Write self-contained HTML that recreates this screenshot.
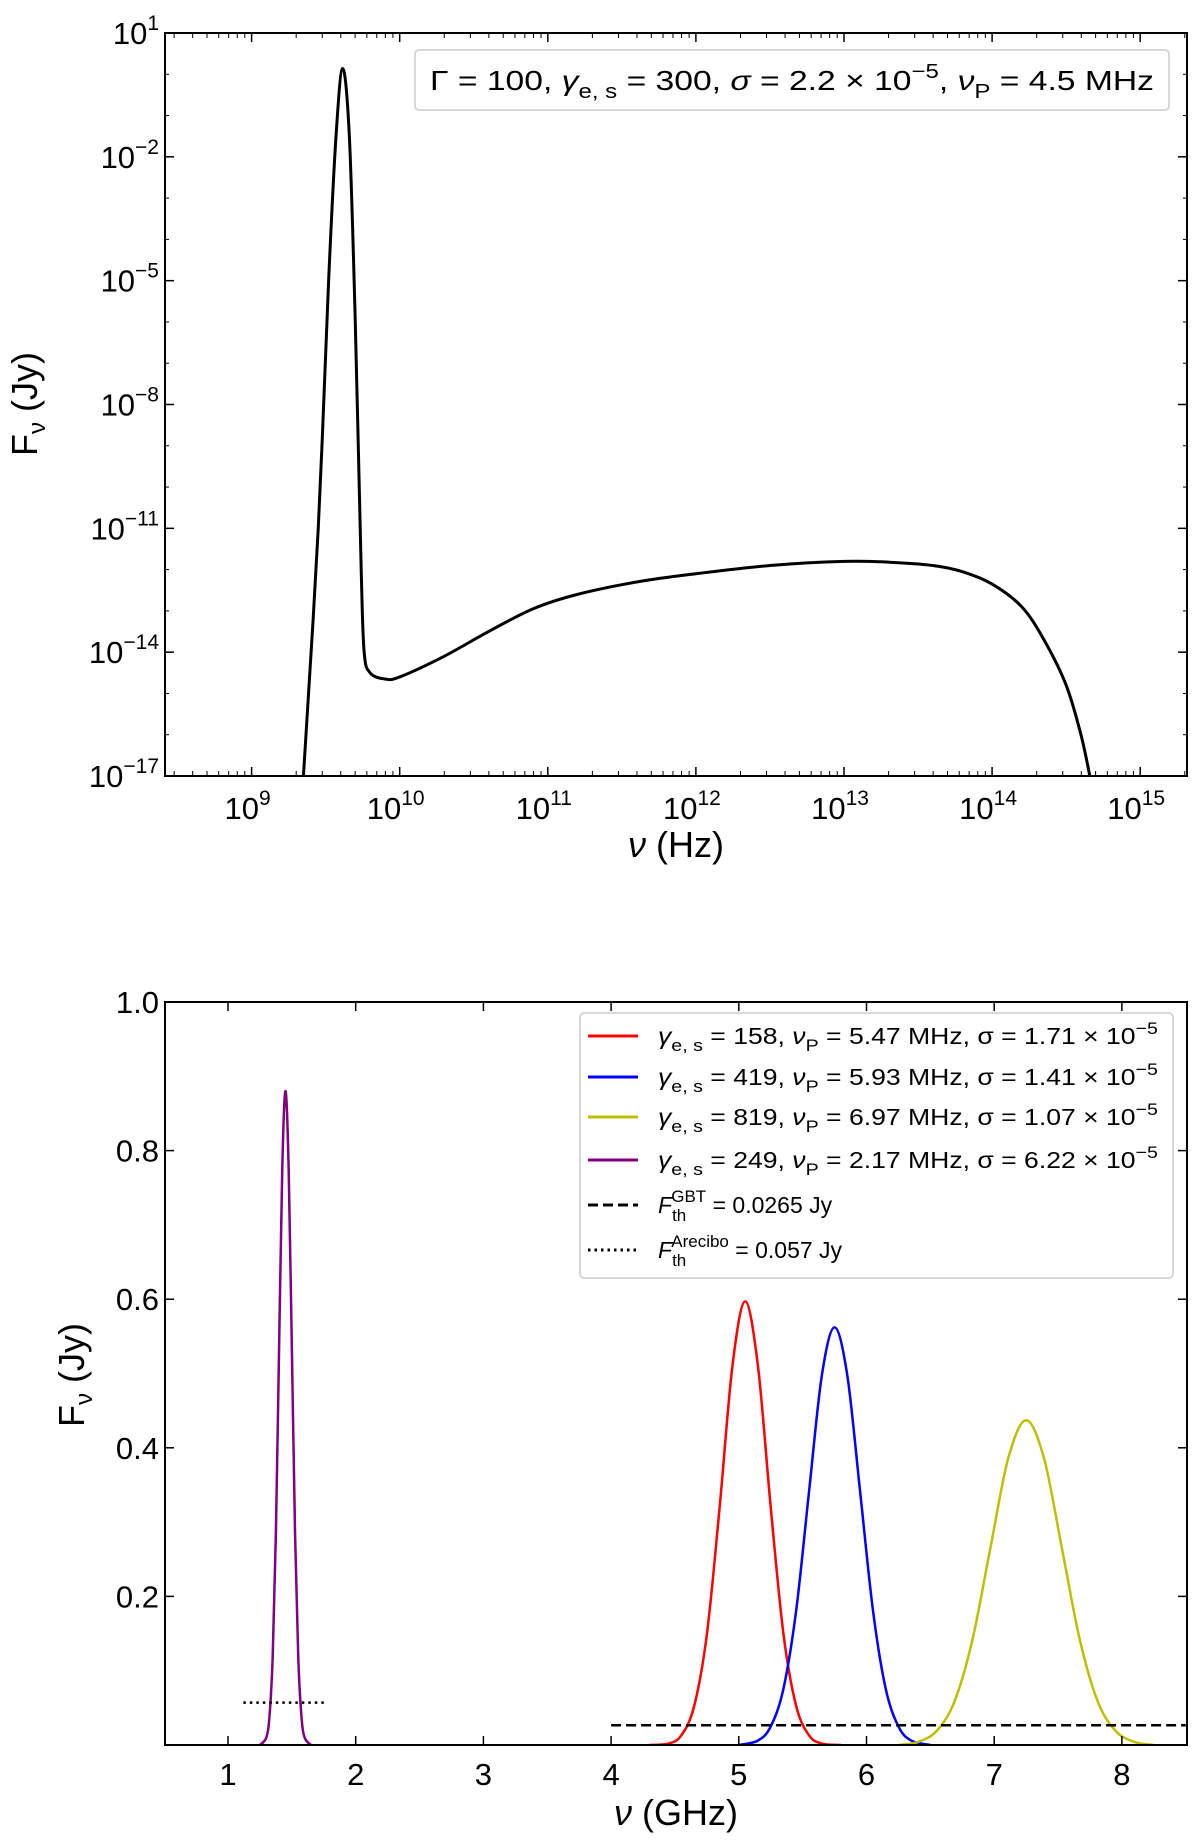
<!DOCTYPE html>
<html><head><meta charset="utf-8"><style>
html,body{margin:0;padding:0;background:#fff;width:1200px;height:1845px;overflow:hidden}
svg{display:block;font-family:"Liberation Sans","DejaVu Sans",sans-serif}
</style></head><body>
<svg id="c" width="1200" height="1845" viewBox="0 0 1200 1845"></svg>
<script>
// ---- top panel data (log10 nu, log10 F) ----
const topLogNu = [9.35,9.45,9.52,9.57,9.615,9.66,9.7,9.74,9.76,9.8,9.9,10.0,10.3,10.6,10.9,11.2,11.6,12.0,12.5,13.0,13.3,13.6,13.8,14.0,14.2,14.35,14.5,14.6,14.66];
const topLogF = [-17,-11,-5,-1.5,0.14,-1.5,-6,-12,-14,-14.5,-14.65,-14.6,-14.1,-13.5,-12.95,-12.6,-12.3,-12.1,-11.9,-11.8,-11.82,-11.9,-12.05,-12.35,-12.9,-13.7,-14.8,-16,-17];
const topXTicks = [9,10,11,12,13,14,15];
const topYTicks = [1,-2,-5,-8,-11,-14,-17];
// ---- bottom panel data (GHz, Jy) ----
const redX = [4.3,4.45,4.55,4.65,4.75,4.85,4.95,5.05,5.15,5.25,5.35,5.45,5.55,5.65,5.8];
const redY = [0,0.002,0.013,0.052,0.149,0.32,0.51,0.597,0.51,0.32,0.149,0.052,0.013,0.002,0];
const blueX = [5.0,5.15,5.25,5.35,5.45,5.55,5.65,5.75,5.85,5.95,6.05,6.15,6.25,6.35,6.5];
const blueY = [0,0.006,0.025,0.076,0.182,0.341,0.497,0.562,0.497,0.341,0.182,0.076,0.025,0.006,0];
const yelX = [6.25,6.4,6.55,6.69,6.83,6.97,7.11,7.25,7.39,7.53,7.67,7.81,7.95,8.1,8.25];
const yelY = [0,0.004,0.019,0.059,0.142,0.265,0.386,0.437,0.386,0.265,0.142,0.059,0.019,0.004,0];
const purX = [1.25,1.3,1.325,1.35,1.375,1.4,1.425,1.45,1.475,1.5,1.525,1.55,1.575,1.6,1.65];
const purY = [0,0.01,0.039,0.119,0.285,0.534,0.776,0.88,0.776,0.534,0.285,0.119,0.039,0.01,0];
const gbt = [4.0,8.5,0.0265];
const arecibo = [1.12,1.75,0.057];
const botXTicks = [1,2,3,4,5,6,7,8];
const botYTicks = [0.2,0.4,0.6,0.8,1.0];

const NS="http://www.w3.org/2000/svg", svg=document.getElementById('c');
function el(t,a,p){const e=document.createElementNS(NS,t);for(const k in a)e.setAttribute(k,a[k]);(p||svg).appendChild(e);return e;}
function smooth(xs,ys,fx,fy){let pts=xs.map((x,i)=>[fx(x),fy(ys[i])]);let d='M'+pts[0][0]+','+pts[0][1];
 for(let i=0;i<pts.length-1;i++){const p0=pts[Math.max(0,i-1)],p1=pts[i],p2=pts[i+1],p3=pts[Math.min(pts.length-1,i+2)];
 const c1=[p1[0]+(p2[0]-p0[0])/6,p1[1]+(p2[1]-p0[1])/6],c2=[p2[0]-(p3[0]-p1[0])/6,p2[1]-(p3[1]-p1[1])/6];
 d+=' C'+c1+' '+c2+' '+p2;}return d;}

// ---- TOP PANEL ----
const T={l:165,r:1187,t:33,b:776};
const tx=v=>251.6+(v-9)*148.1, ty=v=>T.t+(1-v)*(T.b-T.t)/18;
let cp=el('clipPath',{id:'ct'});el('rect',{x:T.l,y:T.t,width:T.r-T.l,height:T.b-T.t},cp);
const topCurve=el('path',{d:smooth(topLogNu,topLogF,tx,ty),fill:'none',stroke:'#000','stroke-width':3,'clip-path':'url(#ct)'});


topXTicks.forEach(v=>{const x=tx(v);
 el('line',{x1:x,x2:x,y1:T.b,y2:T.b-9,stroke:'#000','stroke-width':1.5});
 el('line',{x1:x,x2:x,y1:T.t,y2:T.t+9,stroke:'#000','stroke-width':1.5});
 const t=el('text',{x:x-4,y:T.b+43,'font-size':31,'text-anchor':'middle'});t.innerHTML='10<tspan dy="-14" font-size="21">'+v+'</tspan>';
 
 
});
for(let d=8;d<=15;d++)for(let m=2;m<=9;m++){const v=d+Math.log10(m);const x=tx(v);if(x<T.l||x>T.r)continue;
 el('line',{x1:x,x2:x,y1:T.b,y2:T.b-5,stroke:'#000','stroke-width':1});el('line',{x1:x,x2:x,y1:T.t,y2:T.t+5,stroke:'#000','stroke-width':1});}
topYTicks.forEach(v=>{const y=ty(v);
 el('line',{x1:T.l,x2:T.l+9,y1:y,y2:y,stroke:'#000','stroke-width':1.5});el('line',{x1:T.r,x2:T.r-9,y1:y,y2:y,stroke:'#000','stroke-width':1.5});
 const t=el('text',{x:T.l-6,y:y+11,'font-size':31,'text-anchor':'end'});t.innerHTML='10<tspan dy="-14" font-size="21">'+(v<0?'\u2212'+(-v):v)+'</tspan>';
 
 
});
for(let d=-17;d<=1;d++){const y=ty(d);el('line',{x1:T.l,x2:T.l+4,y1:y,y2:y,stroke:'#000','stroke-width':1});el('line',{x1:T.r,x2:T.r-4,y1:y,y2:y,stroke:'#000','stroke-width':1});}
const tf=el('rect',{x:T.l,y:T.t,width:T.r-T.l,height:T.b-T.t,fill:'none',stroke:'#000','stroke-width':2});


const tlb=el('rect',{x:415,y:50,width:754,height:60,rx:4,fill:'#fff',stroke:'#ccc','stroke-width':1.5});


const tlt=el('text',{x:430,y:90,'font-size':28,textLength:724,lengthAdjust:'spacingAndGlyphs'});
tlt.innerHTML='Γ = 100, <tspan font-style="italic">γ</tspan><tspan dy="8" font-size="20">e, s</tspan><tspan dy="-8"> = 300, </tspan><tspan font-style="italic">σ</tspan> = 2.2 × 10<tspan dy="-12" font-size="20">−5</tspan><tspan dy="12">, </tspan><tspan font-style="italic">ν</tspan><tspan dy="8" font-size="20">P</tspan><tspan dy="-8"> = 4.5 MHz</tspan>';


const txl=el('text',{x:676,y:857,'font-size':36,'text-anchor':'middle'});txl.innerHTML='<tspan font-style="italic">ν</tspan> (Hz)';


const tyl=el('text',{x:0,y:0,'font-size':36,'text-anchor':'middle',transform:'translate(37,404) rotate(-90)'});tyl.innerHTML='F<tspan dy="8" font-size="24">ν</tspan><tspan dy="-8"> (Jy)</tspan>';



// ---- BOTTOM PANEL ----
const B={l:165,r:1187,t:1002,b:1745};
const bx=v=>228+(v-1)*127.7, by=v=>B.b-v*(B.b-B.t);
cp=el('clipPath',{id:'cb'});el('rect',{x:B.l,y:B.t,width:B.r-B.l,height:B.b-B.t},cp);
[[redX,redY,'#ff0000','red-curve'],[blueX,blueY,'#0000ff','blue-curve'],[yelX,yelY,'#bfbf00','yellow-curve'],[purX,purY,'#800080','purple-curve']].forEach(s=>{
 const p=el('path',{d:smooth(s[0],s[1],bx,by),fill:'none',stroke:s[2],'stroke-width':2.5,'clip-path':'url(#cb)'});
 
 
});
const gl=el('line',{x1:bx(gbt[0]),x2:bx(gbt[1]),y1:by(gbt[2]),y2:by(gbt[2]),stroke:'#000','stroke-width':2.5,'stroke-dasharray':'10,5'});


const al=el('line',{x1:bx(arecibo[0]),x2:bx(arecibo[1]),y1:by(arecibo[2]),y2:by(arecibo[2]),stroke:'#000','stroke-width':2.5,'stroke-dasharray':'2.5,4'});


botXTicks.forEach(v=>{const x=bx(v);
 el('line',{x1:x,x2:x,y1:B.b,y2:B.b-9,stroke:'#000','stroke-width':1.5});el('line',{x1:x,x2:x,y1:B.t,y2:B.t+9,stroke:'#000','stroke-width':1.5});
 const t=el('text',{x:x,y:B.b+40,'font-size':31,'text-anchor':'middle'});t.textContent=v;
 
 
});
botYTicks.forEach(v=>{const y=by(v);
 el('line',{x1:B.l,x2:B.l+9,y1:y,y2:y,stroke:'#000','stroke-width':1.5});el('line',{x1:B.r,x2:B.r-9,y1:y,y2:y,stroke:'#000','stroke-width':1.5});
 const t=el('text',{x:B.l-6,y:y+11,'font-size':31,'text-anchor':'end'});t.textContent=v.toFixed(1);
 
 
});
const bf=el('rect',{x:B.l,y:B.t,width:B.r-B.l,height:B.b-B.t,fill:'none',stroke:'#000','stroke-width':2});


const lb=el('rect',{x:580,y:1013,width:593,height:265,rx:4,fill:'#fff',stroke:'#ccc','stroke-width':1.5});


const leg=[['#ff0000','158','5.47','1.71'],['#0000ff','419','5.93','1.41'],['#bfbf00','819','6.97','1.07'],['#800080','249','2.17','6.22']];
const ly=[1036,1077,1117,1160];
leg.forEach((e,i)=>{
 el('line',{x1:588,x2:638,y1:ly[i],y2:ly[i],stroke:e[0],'stroke-width':3});
 const t=el('text',{x:658,y:ly[i]+8,'font-size':23,textLength:500,lengthAdjust:'spacingAndGlyphs'});
 t.innerHTML='<tspan font-style="italic">γ</tspan><tspan dy="7" font-size="17">e, s</tspan><tspan dy="-7"> = '+e[1]+', </tspan><tspan font-style="italic">ν</tspan><tspan dy="7" font-size="17">P</tspan><tspan dy="-7"> = '+e[2]+' MHz, σ = '+e[3]+' × 10</tspan><tspan dy="-10" font-size="17">−5</tspan>';
 
 
});
el('line',{x1:588,x2:638,y1:1205,y2:1205,stroke:'#000','stroke-width':3,'stroke-dasharray':'10,5'});
let t5=el('text',{x:658,y:1213,'font-size':23});t5.innerHTML='<tspan font-style="italic">F</tspan><tspan dy="8" font-size="17">th</tspan><tspan dy="-19" dx="-15" font-size="17">GBT</tspan><tspan dy="11"> = 0.0265 Jy</tspan>';


el('line',{x1:588,x2:638,y1:1250,y2:1250,stroke:'#000','stroke-width':3,'stroke-dasharray':'2.5,4'});
let t6=el('text',{x:658,y:1258,'font-size':23});t6.innerHTML='<tspan font-style="italic">F</tspan><tspan dy="8" font-size="17">th</tspan><tspan dy="-19" dx="-15" font-size="17">Arecibo</tspan><tspan dy="11"> = 0.057 Jy</tspan>';


const bxl=el('text',{x:676,y:1825,'font-size':36,'text-anchor':'middle'});bxl.innerHTML='<tspan font-style="italic">ν</tspan> (GHz)';


const byl=el('text',{x:0,y:0,'font-size':36,'text-anchor':'middle',transform:'translate(84,1375) rotate(-90)'});byl.innerHTML='F<tspan dy="8" font-size="24">ν</tspan><tspan dy="-8"> (Jy)</tspan>';


</script>
</body></html>
